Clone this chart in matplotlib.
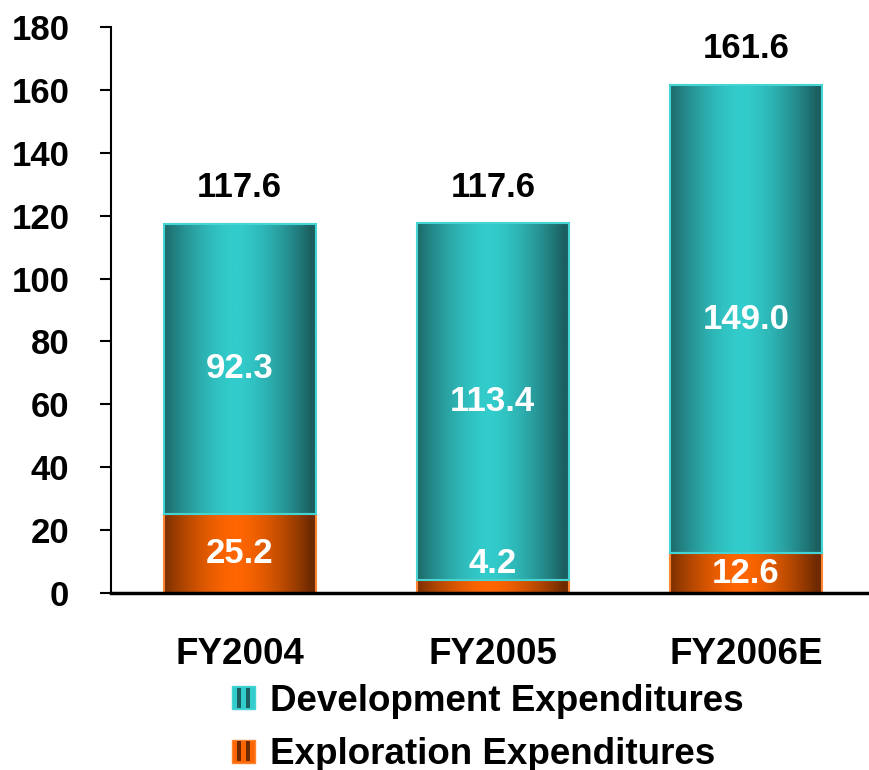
import numpy as np
import matplotlib
matplotlib.use("Agg")
import matplotlib.pyplot as plt
from matplotlib.colors import LinearSegmentedColormap
from matplotlib.legend_handler import HandlerBase
from matplotlib.patches import Rectangle

# Data
categories = ["FY2004", "FY2005", "FY2006E"]
exploration = [25.2, 4.2, 12.6]
development = [92.3, 113.4, 149.0]
totals = [117.6, 117.6, 161.6]
yticks = [0, 20, 40, 60, 80, 100, 120, 140, 160, 180]

TEAL_DARK, TEAL_LIGHT, TEAL_EDGE = "#1b5f60", "#33cccc", "#45d4d4"
ORANGE_DARK, ORANGE_LIGHT, ORANGE_EDGE = "#6e2a00", "#ff6600", "#ff8533"

plt.rcParams['font.family'] = ['Liberation Sans', 'DejaVu Sans']
plt.rcParams['font.weight'] = 'bold'
FS = 25
FS_BIG = 26.5

fig = plt.figure(figsize=(8.7, 7.7), dpi=100)
ax = fig.add_axes([0.1276, 0.2299, 0.8724, 0.735])

x = np.arange(len(categories))
width = 0.6

bars_exp = ax.bar(x, exploration, width, facecolor="none", edgecolor=ORANGE_EDGE, linewidth=1.5, zorder=3)
bars_dev = ax.bar(x, development, width, bottom=exploration, facecolor="none",
                  edgecolor=TEAL_EDGE, linewidth=1.5, zorder=3)


def gradient_fill(bars, dark, light):
    cmap = LinearSegmentedColormap.from_list("g", [dark, light])
    t = np.linspace(0, 1, 256)
    prof = 1 - np.clip(np.abs((t - 0.47) / 0.5), 0, 1) ** 1.6
    img = prof[np.newaxis, :]
    for b in bars:
        x0, y0 = b.get_x(), b.get_y()
        w, h = b.get_width(), b.get_height()
        im = ax.imshow(img, cmap=cmap, vmin=0, vmax=1, aspect="auto",
                       extent=[x0, x0 + w, y0, y0 + h], zorder=2, interpolation="bilinear")
        im.set_clip_path(b)


gradient_fill(bars_exp, ORANGE_DARK, ORANGE_LIGHT)
gradient_fill(bars_dev, TEAL_DARK, TEAL_LIGHT)

# labels
for i in range(len(categories)):
    e, d, tot = exploration[i], development[i], totals[i]
    ax.text(x[i], e + d / 2, f"{d:.1f}", ha="center", va="center", color="white",
            fontsize=FS, fontweight="bold", zorder=4)
    ey = e / 2 if e > 8 else e + 5.3
    ax.text(x[i], ey, f"{e:.1f}", ha="center", va="center", color="white",
            fontsize=FS, fontweight="bold", zorder=4)
    ax.text(x[i], tot + 11.5, f"{tot:.1f}", ha="center", va="center", color="black",
            fontsize=FS, fontweight="bold", zorder=4)

ax.set_xlim(-0.508, 2.49)
ax.set_ylim(0, 180)
ax.set_yticks(yticks)
ax.set_xticks(x)
ax.set_xticklabels(categories)
ax.tick_params(axis="y", length=8, width=1.5, labelsize=FS, pad=22)
ax.tick_params(axis="x", length=0, labelsize=FS_BIG, pad=32)
for lab in ax.get_xticklabels() + ax.get_yticklabels():
    lab.set_fontweight("bold")
ax.spines["top"].set_visible(False)
ax.spines["right"].set_visible(False)
ax.spines["left"].set_linewidth(1.5)
ax.spines["bottom"].set_linewidth(2.5)
ax.spines["bottom"].set_zorder(5)


class StripedHandler(HandlerBase):
    def __init__(self, light, dark, edge):
        super().__init__()
        self.light, self.dark, self.edge = light, dark, edge

    def create_artists(self, legend, orig_handle, xdescent, ydescent, width, height, fontsize, trans):
        x0, y0 = -xdescent, -ydescent
        arts = [Rectangle((x0, y0), width, height, facecolor=self.light,
                          edgecolor=self.edge, linewidth=1, transform=trans)]
        for fx in (0.2, 0.62):
            arts.append(Rectangle((x0 + fx * width, y0 + 0.08 * height), 0.18 * width, 0.84 * height,
                                  facecolor=self.dark, edgecolor="none", transform=trans))
        return arts


h_dev = Rectangle((0, 0), 1, 1)
h_exp = Rectangle((0, 0), 1, 1)
fig.legend([h_dev, h_exp], ["Development Expenditures", "Exploration Expenditures"],
           handler_map={h_dev: StripedHandler(TEAL_LIGHT, TEAL_DARK, TEAL_EDGE),
                        h_exp: StripedHandler(ORANGE_LIGHT, ORANGE_DARK, ORANGE_EDGE)},
           loc="upper left", bbox_to_anchor=(0.2667, 0.112), frameon=False,
           prop={"size": FS_BIG, "weight": "bold"}, handlelength=0.62, handleheight=0.6,
           handletextpad=0.41, labelspacing=0.5, borderpad=0, borderaxespad=0)

fig.savefig("out.png", dpi=100)
